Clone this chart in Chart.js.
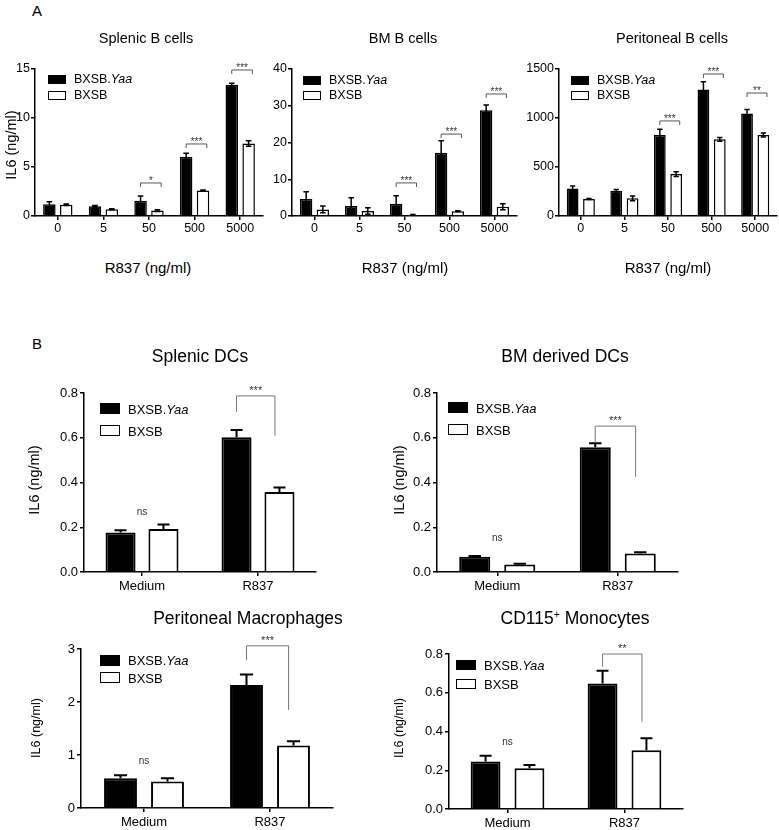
<!DOCTYPE html>
<html>
<head>
<meta charset="utf-8">
<script src="https://cdn.jsdelivr.net/npm/chart.js@4.4.0/dist/chart.umd.min.js"></script>
<style>
body { margin:0; background:#fff; width:779px; height:830px; position:relative; overflow:hidden;
       font-family:"Liberation Sans", Arial, sans-serif; color:#000; }
canvas { position:absolute; }
.t { position:absolute; white-space:nowrap; transform:translate(-50%,-50%); line-height:1; }
.yl { position:absolute; white-space:nowrap; transform:translate(-50%,-50%) rotate(-90deg); line-height:1; }
.box { position:absolute; box-sizing:border-box; border:1.5px solid #000; }
.lt { position:absolute; white-space:nowrap; transform:translateY(-50%); line-height:1; }
sup { font-size:60%; vertical-align:top; position:relative; top:-0.1em; }
</style>
</head>
<body>
<script>
// ---- data (IL6, ng/ml) ----
const doses = ['0', '5', '50', '500', '5000'];
const stimuli = ['Medium', 'R837'];

// A: splenic B cells
const splenicBYaa = [1.2, 1.0, 1.55, 6.05, 13.4];
const splenicBYaaErr = [0.25, 0.08, 0.5, 0.35, 0.15];
const splenicBWt = [1.15, 0.7, 0.55, 2.6, 7.4];
const splenicBWtErr = [0.08, 0.05, 0.1, 0.05, 0.27];
const splenicBSigCat = [2, 3, 4];
const splenicBSigTop = [3.37, 7.35, 14.9];
const splenicBSigText = ['*', '***', '***'];

// A: BM B cells
const bmBYaa = [4.6, 2.7, 3.3, 17.2, 28.8];
const bmBYaaErr = [2.0, 2.3, 2.2, 3.3, 1.4];
const bmBWt = [1.8, 1.35, 0.3, 1.3, 2.5];
const bmBWtErr = [0.9, 0.9, 0.1, 0.1, 0.8];
const bmBSigCat = [2, 3, 4];
const bmBSigTop = [9.0, 22.3, 33.2];
const bmBSigText = ['***', '***', '***'];

// A: peritoneal B cells
const perBYaa = [280, 258, 826, 1292, 1047];
const perBYaaErr = [26, 12, 58, 78, 40];
const perBWt = [173, 180, 428, 782, 826];
const perBWtErr = [5, 24, 24, 20, 20];
const perBSigCat = [2, 3, 4];
const perBSigTop = [970, 1449, 1255];
const perBSigText = ['***', '***', '**'];

// B: splenic DCs
const sdcYaa = [0.177, 0.602];
const sdcYaaErr = [0.01, 0.033];
const sdcWt = [0.192, 0.358];
const sdcWtErr = [0.02, 0.02];
const sdcSig = [0.787, 0.716, 0.609]; // bracket top, left end, right end
const sdcNs = 0.267;

// B: BM derived DCs
const bmdcYaa = [0.068, 0.557];
const bmdcYaaErr = [0.004, 0.018];
const bmdcWt = [0.033, 0.083];
const bmdcWtErr = [0.004, 0.005];
const bmdcSig = [0.652, 0.58, 0.425];
const bmdcNs = 0.15;

// B: peritoneal macrophages
const pmacYaa = [0.56, 2.32];
const pmacYaaErr = [0.06, 0.2];
const pmacWt = [0.5, 1.18];
const pmacWtErr = [0.06, 0.08];
const pmacSig = [3.06, 2.79, 1.85];
const pmacNs = 0.89;

// B: CD115+ monocytes
const monoYaa = [0.245, 0.648];
const monoYaaErr = [0.03, 0.066];
const monoWt = [0.21, 0.303];
const monoWtErr = [0.017, 0.062];
const monoSig = [0.8, 0.734, 0.45];
const monoNs = 0.343;

const FONT = '"Liberation Sans", Arial, sans-serif';

// error bars: stem + cap, up only or both ways
const errPlugin = {
    id: 'err',
    afterDatasetsDraw(chart, args, o) {
        const ctx = chart.ctx, ys = chart.scales.y;
        ctx.save();
        ctx.strokeStyle = '#000';
        ctx.lineWidth = o.lw;
        chart.data.datasets.forEach((ds, di) => {
            chart.getDatasetMeta(di).data.forEach((bar, i) => {
                const v = ds.data[i], e = ds.err[i];
                const yt = ys.getPixelForValue(v + e);
                const yb = o.both ? ys.getPixelForValue(v - e) : bar.y;
                const cw = bar.width * o.cap / 2;
                ctx.beginPath();
                ctx.moveTo(bar.x, yt); ctx.lineTo(bar.x, yb);
                ctx.moveTo(bar.x - cw, yt); ctx.lineTo(bar.x + cw, yt);
                if (o.both) { ctx.moveTo(bar.x - cw, yb); ctx.lineTo(bar.x + cw, yb); }
                ctx.stroke();
            });
        });
        ctx.restore();
    }
};

// significance brackets
const sigPlugin = {
    id: 'sig',
    afterDraw(chart, args, o) {
        const ctx = chart.ctx, ys = chart.scales.y;
        const m0 = chart.getDatasetMeta(0).data, m1 = chart.getDatasetMeta(1).data;
        ctx.save();
        ctx.lineWidth = 1;
        o.items.forEach(it => {
            const a = m0[it.cat], b = m1[it.cat];
            const y = ys.getPixelForValue(it.top);
            let x1, x2, y1, y2;
            if (o.short) {
                x1 = a.x; x2 = b.x + b.width * 0.3;
                y1 = y + 4; y2 = y + 4;
            } else {
                x1 = a.x; x2 = b.x - b.width * 0.15;
                y1 = ys.getPixelForValue(it.l); y2 = ys.getPixelForValue(it.r);
            }
            ctx.strokeStyle = o.color;
            ctx.beginPath();
            ctx.moveTo(x1, y1); ctx.lineTo(x1, y); ctx.lineTo(x2, y); ctx.lineTo(x2, y2);
            ctx.stroke();
            ctx.fillStyle = '#333';
            ctx.font = o.fs + 'px ' + FONT;
            ctx.textAlign = 'center';
            ctx.textBaseline = 'alphabetic';
            ctx.fillText(it.text, (x1 + x2) / 2, y + o.dy);
        });
        if (o.ns != null) {
            const a = m0[0], b = m1[0];
            ctx.fillStyle = '#333';
            ctx.font = '10px ' + FONT;
            ctx.textAlign = 'center';
            ctx.textBaseline = 'middle';
            ctx.fillText('ns', (a.x + b.x) / 2, ys.getPixelForValue(o.ns));
        }
        ctx.restore();
    }
};

function makeChart(c) {
    const padL = 45, padT = 30, padB = 34, padR = 6;
    const cv = document.createElement('canvas');
    cv.width = c.right - c.left + padL + padR;
    cv.height = c.bottom - c.top + padT + padB;
    cv.style.left = (c.left - padL) + 'px';
    cv.style.top = (c.top - padT) + 'px';
    document.body.appendChild(cv);
    const big = c.big;
    new Chart(cv, {
        type: 'bar',
        data: {
            labels: c.labels,
            datasets: [
                { label: 'BXSB.Yaa', data: c.yaa, err: c.yaaErr, backgroundColor: '#000', borderColor: '#000', borderWidth: big ? 2 : 1.5 },
                { label: 'BXSB', data: c.wt, err: c.wtErr, backgroundColor: '#fff', borderColor: '#000', borderWidth: big ? 2 : 1.5 }
            ]
        },
        options: {
            responsive: false,
            animation: false,
            devicePixelRatio: 1,
            layout: { padding: { left: 0, top: padT, right: padR, bottom: 0 } },
            datasets: { bar: { categoryPercentage: c.catPct, barPercentage: c.barPct } },
            plugins: {
                legend: { display: false },
                tooltip: { enabled: false },
                err: { both: !big, cap: big ? 0.4 : 0.45, lw: big ? 2 : 1.5 },
                sig: c.sig
            },
            scales: {
                x: {
                    afterFit: s => { s.height = padB; },
                    grid: { drawOnChartArea: false, offset: false, tickLength: 4, color: '#000', lineWidth: 1.5 },
                    border: { color: '#000', width: 1.5 },
                    ticks: { color: '#000', padding: big ? 3 : 1, font: { family: FONT, size: big ? 13 : 12.5 } }
                },
                y: {
                    min: 0, max: c.max,
                    afterFit: s => { s.width = padL; },
                    grid: { drawOnChartArea: false, tickLength: 4, color: '#000', lineWidth: 1.5 },
                    border: { color: '#000', width: 1.5 },
                    ticks: {
                        stepSize: c.step, color: '#000', padding: big ? 2 : 1,
                        font: { family: FONT, size: big ? 13 : 12.5 },
                        callback: v => c.dec ? v.toFixed(c.dec) : v
                    }
                }
            }
        },
        plugins: [errPlugin, sigPlugin]
    });
}

function topSig(cats, tops, texts) {
    return { short: true, color: '#555', fs: 10, dy: 1, items: cats.map((k, i) => ({ cat: k, top: tops[i], text: texts[i] })) };
}
function botSig(s, text, ns) {
    return { short: false, color: '#777', fs: 11, dy: -2, ns: ns, items: [{ cat: 1, top: s[0], l: s[1], r: s[2], text: text }] };
}

makeChart({ left: 35, right: 263, top: 69, bottom: 216, labels: doses, max: 15, step: 5, catPct: 0.74, barPct: 0.74,
    yaa: splenicBYaa, yaaErr: splenicBYaaErr, wt: splenicBWt, wtErr: splenicBWtErr,
    sig: topSig(splenicBSigCat, splenicBSigTop, splenicBSigText) });
makeChart({ left: 292, right: 517, top: 69, bottom: 216, labels: doses, max: 40, step: 10, catPct: 0.74, barPct: 0.74,
    yaa: bmBYaa, yaaErr: bmBYaaErr, wt: bmBWt, wtErr: bmBWtErr,
    sig: topSig(bmBSigCat, bmBSigTop, bmBSigText) });
makeChart({ left: 559, right: 777, top: 69, bottom: 216, labels: doses, max: 1500, step: 500, catPct: 0.75, barPct: 0.72,
    yaa: perBYaa, yaaErr: perBYaaErr, wt: perBWt, wtErr: perBWtErr,
    sig: topSig(perBSigCat, perBSigTop, perBSigText) });

makeChart({ big: true, left: 84, right: 316, top: 393, bottom: 572, labels: stimuli, max: 0.8, step: 0.2, dec: 1, catPct: 0.74, barPct: 0.7,
    yaa: sdcYaa, yaaErr: sdcYaaErr, wt: sdcWt, wtErr: sdcWtErr, sig: botSig(sdcSig, '***', sdcNs) });
makeChart({ big: true, left: 437, right: 678, top: 393, bottom: 572, labels: stimuli, max: 0.8, step: 0.2, dec: 1, catPct: 0.747, barPct: 0.69,
    yaa: bmdcYaa, yaaErr: bmdcYaaErr, wt: bmdcWt, wtErr: bmdcWtErr, sig: botSig(bmdcSig, '***', bmdcNs) });
makeChart({ big: true, left: 81, right: 333, top: 649, bottom: 808, labels: stimuli, max: 3, step: 1, catPct: 0.746, barPct: 0.7,
    yaa: pmacYaa, yaaErr: pmacYaaErr, wt: pmacWt, wtErr: pmacWtErr, sig: botSig(pmacSig, '***', pmacNs) });
makeChart({ big: true, left: 449, right: 683, top: 654, bottom: 809, labels: stimuli, max: 0.8, step: 0.2, dec: 1, catPct: 0.75, barPct: 0.68,
    yaa: monoYaa, yaaErr: monoYaaErr, wt: monoWt, wtErr: monoWtErr, sig: botSig(monoSig, '**', monoNs) });

// ---- texts ----
function txt(html, x, y, size, cls) {
    const d = document.createElement('div');
    d.className = cls || 't';
    d.style.left = x + 'px'; d.style.top = y + 'px'; d.style.fontSize = size + 'px';
    d.innerHTML = html;
    document.body.appendChild(d);
}
function legend(x, y1, y2, w, h, fs) {
    [[y1, '#000'], [y2, '#fff']].forEach(([y, bg]) => {
        const b = document.createElement('div');
        b.className = 'box';
        b.style.left = x + 'px'; b.style.top = (y - h / 2) + 'px';
        b.style.width = w + 'px'; b.style.height = h + 'px'; b.style.background = bg;
        document.body.appendChild(b);
    });
    txt('BXSB.<i>Yaa</i>', x + w + 8, y1, fs, 'lt');
    txt('BXSB', x + w + 8, y2, fs, 'lt');
}

txt('A', 37, 10, 15);
txt('B', 37, 343, 15);

txt('Splenic B cells', 146, 38, 14.5);
txt('BM B cells', 403, 38, 14.5);
txt('Peritoneal B cells', 672, 38, 14.5);
['148', '405', '668'].forEach(x => txt('R837 (ng/ml)', +x, 267, 15));
txt('IL6 (ng/ml)', 11, 145, 14.5, 'yl');

legend(48, 79, 95, 18, 9, 12.5);
legend(303, 80, 95, 18, 9, 12.5);
legend(571, 80, 95, 18, 9, 12.5);

txt('Splenic DCs', 200, 357, 17.5);
txt('BM derived DCs', 565, 357, 17.5);
txt('Peritoneal Macrophages', 248, 619, 17.5);
txt('CD115<sup>+</sup> Monocytes', 575, 619, 17.5);
txt('IL6 (ng/ml)', 34, 480, 14.5, 'yl');
txt('IL6 (ng/ml)', 399, 480, 14.5, 'yl');
txt('IL6 (ng/ml)', 36, 728, 12.5, 'yl');
txt('IL6 (ng/ml)', 399, 728, 12.5, 'yl');

legend(100, 408.5, 430.5, 20, 11, 13);
legend(448, 407.5, 429.5, 20, 11, 13);
legend(100, 660, 677.5, 20, 11, 13);
legend(456, 665, 683.5, 20, 10, 13);
</script>
</body>
</html>
